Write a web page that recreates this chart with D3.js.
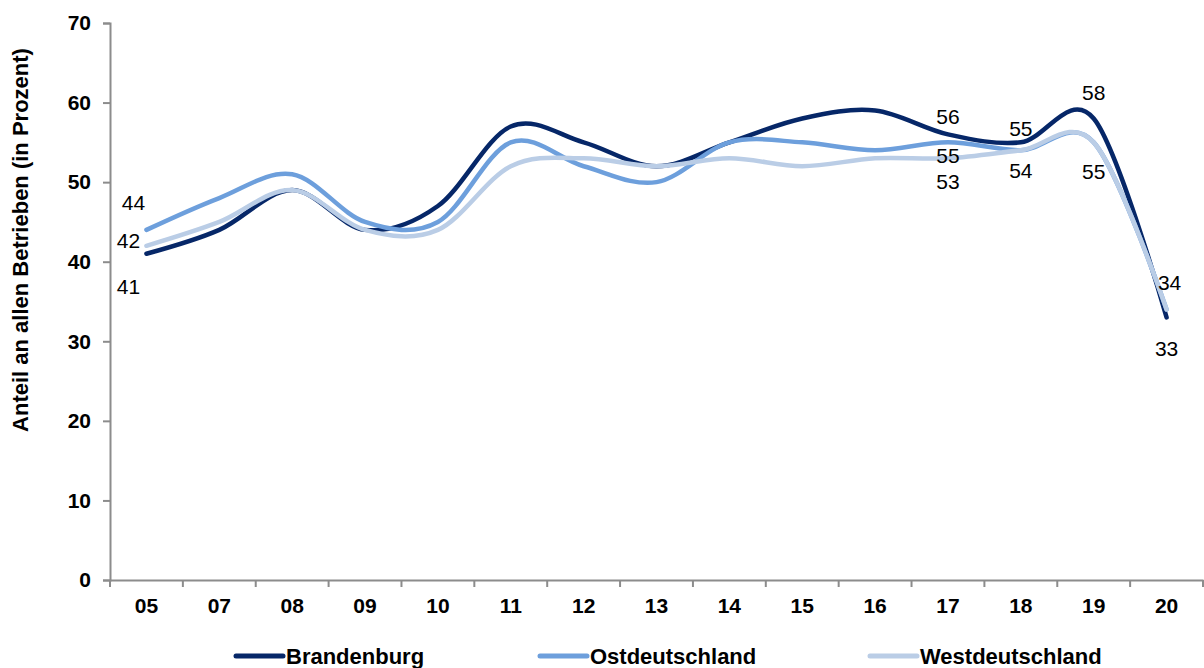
<!DOCTYPE html>
<html>
<head>
<meta charset="utf-8">
<script src="https://cdn.jsdelivr.net/npm/d3@7"></script>
<style>
  body { margin: 0; background: #fff; }
  svg { display: block; font-family: "Liberation Sans", Arial, sans-serif; }
</style>
</head>
<body>
<svg id="chart"></svg>
<script>
// Data
const years = ["05", "07", "08", "09", "10", "11", "12", "13", "14", "15", "16", "17", "18", "19", "20"];
const brandenburg = [41, 44, 49, 44, 47, 57, 55, 52, 55, 58, 59, 56, 55, 58, 33];
const ostdeutschland = [44, 48, 51, 45, 45, 55, 52, 50, 55, 55, 54, 55, 54, 55, 34];
const westdeutschland = [42, 45, 49, 44, 44, 52, 53, 52, 53, 52, 53, 53, 54, 55, 34];
const yTicks = [0, 10, 20, 30, 40, 50, 60, 70];
const seriesNames = ["Brandenburg", "Ostdeutschland", "Westdeutschland"];

const width = 1204;
const height = 668;
const margin = { top: 23, right: 1, bottom: 88, left: 110 };

const colors = ["#062768", "#6d9fdc", "#bacde6"];
const seriesValues = [brandenburg, ostdeutschland, westdeutschland];

const svg = d3.select("#chart")
  .attr("width", width)
  .attr("height", height);

const xScale = d3.scaleBand()
  .domain(years)
  .range([margin.left, width - margin.right])
  .padding(0);

const yScale = d3.scaleLinear()
  .domain([0, 70])
  .range([height - margin.bottom, margin.top]);

const axisColor = "#8c8c8c";

// y axis
const yAxis = svg.append("g")
  .attr("transform", `translate(${margin.left},0)`)
  .call(d3.axisLeft(yScale).tickValues(yTicks).tickSize(7).tickPadding(12));
yAxis.select(".domain").attr("stroke", axisColor).attr("stroke-width", 2);
yAxis.selectAll(".tick line").attr("stroke", axisColor).attr("stroke-width", 2);
yAxis.selectAll(".tick text")
  .attr("fill", "#000")
  .style("font-size", "21px")
  .style("font-weight", "bold");

// x axis: labels at band centres, ticks at band edges (category axis)
const xAxis = svg.append("g")
  .attr("transform", `translate(0,${yScale(0)})`)
  .call(d3.axisBottom(xScale).tickSize(0).tickPadding(18).tickSizeOuter(0));
xAxis.select(".domain").attr("stroke", axisColor).attr("stroke-width", 2);
xAxis.selectAll(".tick text")
  .attr("fill", "#000")
  .style("font-size", "21px")
  .style("font-weight", "bold");

const edges = years.map((d) => xScale(d)).concat([xScale(years[years.length - 1]) + xScale.bandwidth()]);
xAxis.selectAll(".edge")
  .data(edges)
  .enter()
  .append("line")
  .attr("class", "edge")
  .attr("x1", (d) => d)
  .attr("x2", (d) => d)
  .attr("y1", 0)
  .attr("y2", 7)
  .attr("stroke", axisColor)
  .attr("stroke-width", 2);

// y axis title
svg.append("text")
  .attr("transform", `translate(28,240) rotate(-90)`)
  .attr("text-anchor", "middle")
  .style("font-size", "22px")
  .style("font-weight", "bold")
  .text("Anteil an allen Betrieben (in Prozent)");

// smoothed lines
const line = d3.line()
  .x((d, i) => xScale(years[i]) + xScale.bandwidth() / 2)
  .y((d) => yScale(d))
  .curve(d3.curveCardinal.tension(0));

seriesValues.forEach((values, s) => {
  svg.append("path")
    .datum(values)
    .attr("fill", "none")
    .attr("stroke", colors[s])
    .attr("stroke-width", 4.5)
    .attr("stroke-linecap", "round")
    .attr("stroke-linejoin", "round")
    .attr("d", line);
});

// data labels: [series, year index, dx, dy]
const labelPlacement = [
  [1, 0, -13, -27], [2, 0, -18, -5], [0, 0, -18, 33],
  [0, 11, 0, -18], [1, 11, 0, 13], [2, 11, 0, 23],
  [0, 12, 0, -14], [2, 12, 0, 20],
  [0, 13, 0, -26], [2, 13, 0, 29],
  [2, 14, 3, -27], [0, 14, 0, 31]
];

svg.selectAll(".dlabel")
  .data(labelPlacement)
  .enter()
  .append("text")
  .attr("class", "dlabel")
  .attr("x", (d) => xScale(years[d[1]]) + xScale.bandwidth() / 2 + d[2])
  .attr("y", (d) => yScale(seriesValues[d[0]][d[1]]) + d[3])
  .attr("dy", "0.35em")
  .attr("text-anchor", "middle")
  .style("font-size", "21px")
  .text((d) => seriesValues[d[0]][d[1]]);

// legend
const legendX = [236, 540, 870];
const legend = svg.selectAll(".legend")
  .data(seriesNames)
  .enter()
  .append("g")
  .attr("class", "legend")
  .attr("transform", (d, i) => `translate(${legendX[i]},656)`);

legend.append("line")
  .attr("x1", 0)
  .attr("x2", 47)
  .attr("stroke", (d, i) => colors[i])
  .attr("stroke-width", 5)
  .attr("stroke-linecap", "round");

legend.append("text")
  .attr("x", 50)
  .attr("dy", "0.35em")
  .style("font-size", "22px")
  .style("font-weight", "bold")
  .text((d) => d);
</script>
</body>
</html>
